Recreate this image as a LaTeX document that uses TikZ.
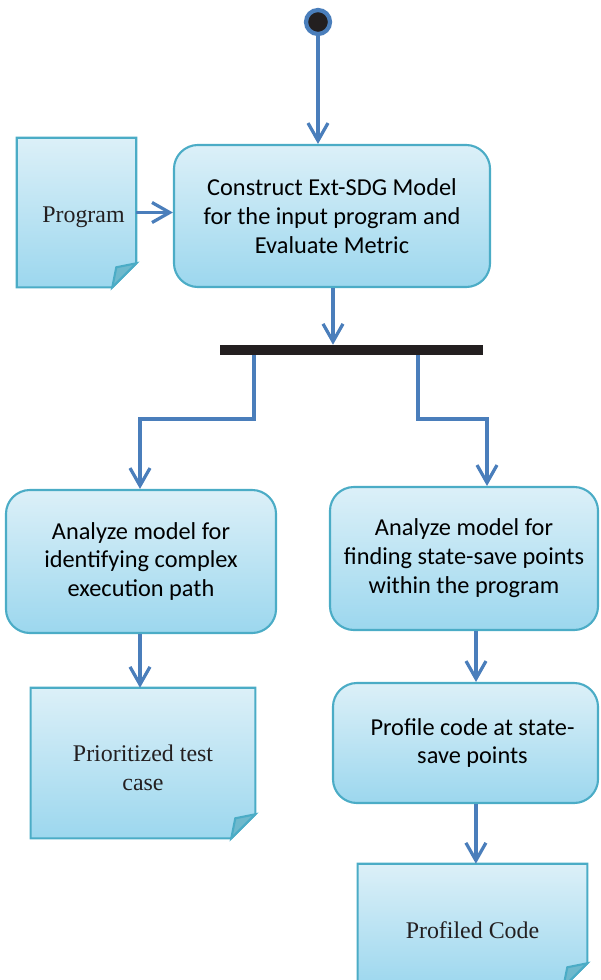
\documentclass[tikz,border=0pt]{standalone}
\usepackage{fontspec}
\usetikzlibrary{arrows.meta,backgrounds}
\newfontfamily\calibrifont{Carlito}
\newfontfamily\docfont{Liberation Serif}
\definecolor{flowblue}{RGB}{74,126,187}
\definecolor{edge}{RGB}{75,172,198}
\definecolor{washtop}{RGB}{220,240,248}
\definecolor{washbot}{RGB}{156,215,238}
\definecolor{foldwash}{RGB}{110,185,205}
\definecolor{barblack}{RGB}{35,31,32}
% sink a text line a little without changing its measured size
\newcommand{\lowline}[1]{\raisebox{-0.11cm}[\height][\depth]{#1}}

\begin{document}
\begin{tikzpicture}[x=0.025cm, y=-0.025cm,
		activity/.style={draw=edge, line width=1.5pt, rounded corners=0.6cm,
		                 top color=washtop, bottom color=washbot, align=center,
		                 font=\calibrifont\fontsize{17.3}{20.6}\selectfont, inner sep=0pt},
		doc/.style={align=center, font=\docfont\fontsize{17}{20.6}\selectfont,
		            text=barblack, inner sep=0pt},
		docface/.style={draw=edge, line width=1.5pt, top color=washtop, bottom color=washbot},
		fold/.style={draw=edge, line width=1.5pt, fill=foldwash},
		flow/.style={draw=flowblue, line width=2.3pt,
		             -{Straight Barb[length=0.44cm, width=0.5cm]}}]
	\useasboundingbox (0,0) rectangle (600,980);
	% initial node and fork bar
	\node[circle, fill=barblack, draw=flowblue, line width=3pt, minimum size=0.6cm,
	      inner sep=0pt] (start) at (318,22) {};
	\node[fill=barblack, minimum width=6.575cm, minimum height=0.25cm, inner sep=0pt]
	      (bar) at (351.5,350) {};
	\coordinate (forkL) at (254,355);
	\coordinate (forkR) at (418,355);
	% activities
	\node[activity, minimum width=7.9cm, minimum height=3.55cm] (construct) at (332,216)
	      {Construct Ext-SDG Model\\for the input program and\\Evaluate Metric};
	\node[activity, minimum width=6.75cm, minimum height=3.575cm] (complex) at (141,561.5)
	      {Analyze model for\\identifying complex\\execution path};
	\node[activity, minimum width=6.7cm, minimum height=3.575cm] (savepts) at (464,558.5)
	      {Analyze model for\\finding state-save points\\within the program};
	\node[activity, minimum width=6.625cm, minimum height=3cm] (profile) at (465.5,743)
	      {\hspace*{0.35cm}Profile code at state-\\\hspace*{0.35cm}save points};
	% documents
	\node[doc, minimum width=2.975cm, minimum height=3.725cm] (program) at (76.5,212.5)
	      {\hspace*{0.35cm}\lowline{Program}};
	\node[doc, minimum width=5.6cm, minimum height=3.75cm] (testcase) at (143,763)
	      {\lowline{Prioritized test}\\\lowline{case}};
	\node[doc, minimum width=5.725cm, minimum height=3.075cm] (profiled) at (472.5,925.5)
	      {\lowline{Profiled Code}};
	\begin{scope}[on background layer]
		\foreach \d in {program,testcase,profiled} {
			\path[docface] (\d.north west) -- (\d.north east) -- ([yshift=0.6cm]\d.south east)
			      -- ([xshift=-0.6cm]\d.south east) -- (\d.south west) -- cycle;
			\path[fold] ([yshift=0.6cm]\d.south east) -- ([shift={(-0.5cm,0.5cm)}]\d.south east)
			      -- ([xshift=-0.6cm]\d.south east) -- cycle;
		}
	\end{scope}
	% control flow
	\draw[flow] (start.south) -- (start.south |- construct.north);
	\draw[flow] (program.east) -- (construct.west |- program.east);
	\draw[flow] ([xshift=0.025cm]construct.south) -- ([xshift=0.025cm]construct.south |- bar.north);
	\draw[flow] (forkL) -- ++(0,64) -| ([xshift=-0.025cm]complex.north);
	\draw[flow] (forkR) -- ++(0,64) -| ([xshift=0.575cm]savepts.north);
	\draw[flow] ([xshift=-0.025cm]complex.south) -- ([xshift=-0.025cm]complex.south |- testcase.north);
	\draw[flow] ([xshift=0.3cm]savepts.south) -- ([xshift=0.3cm]savepts.south |- profile.north);
	\draw[flow] ([xshift=0.26cm]profile.south) -- ([xshift=0.26cm]profile.south |- profiled.north);
\end{tikzpicture}
\end{document}
